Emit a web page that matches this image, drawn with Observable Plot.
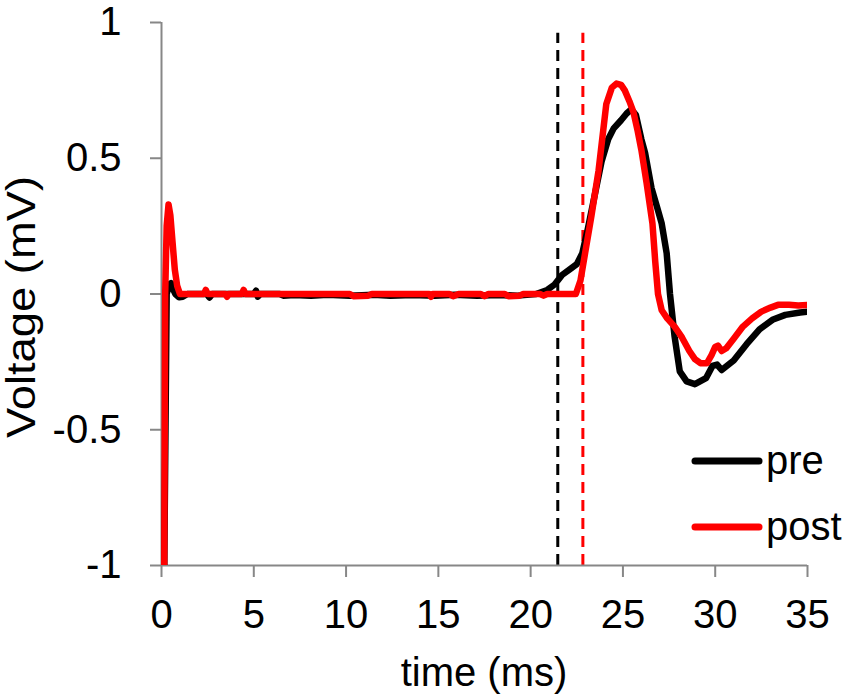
<!DOCTYPE html>
<html>
<head>
<meta charset="utf-8">
<script src="https://cdn.jsdelivr.net/npm/d3@7"></script>
<script src="https://cdn.jsdelivr.net/npm/@observablehq/plot@0.6"></script>
<style>
  html, body { margin: 0; padding: 0; background: #fff; }
</style>
</head>
<body>
<div id="chart"></div>
<script>
// ---- data ----
const xTicks = [0, 5, 10, 15, 20, 25, 30, 35];
const yTicks = [-1, -0.5, 0, 0.5, 1];
const seriesNames = ["pre", "post"];
const xTitle = "time (ms)";
const yTitle = "Voltage (mV)";

const preTime = [0.15, 0.28, 0.42, 0.52, 0.62, 0.75, 0.95, 1.15, 1.4, 2.45, 2.6, 2.75, 5.0, 5.12, 5.22, 5.35,
  6.4, 6.6, 7.2, 8.1, 9.0, 10.2, 11.5, 12.4, 13.6, 14.8, 15.9, 17.1, 18.2, 19.3, 20.3,
  20.9, 21.3, 21.7, 22.1, 22.5, 22.8, 23.1, 23.4, 23.85, 24.2, 24.5, 24.9, 25.2, 25.45, 25.7,
  26.0, 26.2, 26.55, 26.85, 27.1, 27.37, 27.55, 27.8, 28.08, 28.45, 28.9, 29.5, 29.85, 30.1,
  30.35, 31.0, 31.7, 32.4, 33.1, 33.8, 34.6, 35.0];
const preVoltage = [-1.0, 0.0, 0.035, 0.04, 0.02, 0.0, -0.012, -0.01, 0.0, 0.0, -0.013, 0.0, 0.0, 0.012, -0.01, 0.0,
  0.0, -0.006, -0.004, -0.006, -0.003, -0.006, -0.003, -0.006, -0.004, -0.006, -0.003, -0.006, -0.004, -0.006, 0.0,
  0.015, 0.035, 0.07, 0.09, 0.11, 0.15, 0.24, 0.34, 0.49, 0.57, 0.61, 0.64, 0.665, 0.68, 0.66,
  0.57, 0.52, 0.39, 0.32, 0.26, 0.15, 0.0, -0.157, -0.285, -0.322, -0.332, -0.31, -0.265, -0.26,
  -0.28, -0.245, -0.185, -0.13, -0.095, -0.077, -0.068, -0.065];

const postTime = [0.15, 0.2, 0.28, 0.38, 0.48, 0.6, 0.72, 0.85, 1.0, 2.3, 2.4, 2.5, 3.45, 3.55, 3.65, 4.35, 4.45, 4.55,
  10.2, 10.4, 11.2, 11.4, 14.5, 14.6, 14.7, 15.6, 15.8, 16.1, 17.3, 17.5, 17.7, 18.6, 18.8, 19.4, 19.6, 20.5, 20.7, 20.9,
  22.45, 22.7, 22.95, 23.3, 23.68, 24.1, 24.4, 24.65, 24.9, 25.1, 25.35, 25.57, 25.8, 26.0, 26.28, 26.6, 26.75, 26.9,
  27.1, 27.4, 27.8, 28.2, 28.6, 28.9, 29.2, 29.55, 29.8, 30.0, 30.15, 30.35, 30.6, 31.0, 31.5, 32.0, 32.5, 33.0, 33.4,
  34.0, 34.5, 35.0];
const postVoltage = [-1.0, 0.0, 0.25, 0.33, 0.29, 0.19, 0.09, 0.03, 0.0, 0.0, 0.015, 0.0, 0.0, -0.01, 0.0, 0.0, 0.015, 0.0,
  0.0, -0.008, -0.006, 0.0, 0.0, -0.01, 0.0, 0.0, -0.008, 0.0, 0.0, -0.008, 0.0, 0.0, -0.008, -0.006, 0.0, 0.0, -0.006, 0.0,
  0.0, 0.05, 0.15, 0.29, 0.455, 0.70, 0.76, 0.775, 0.77, 0.75, 0.71, 0.67, 0.6, 0.53, 0.41, 0.26, 0.12, 0.0,
  -0.06, -0.09, -0.12, -0.16, -0.21, -0.24, -0.255, -0.255, -0.225, -0.195, -0.19, -0.21, -0.2, -0.165, -0.12, -0.09, -0.065, -0.05, -0.04,
  -0.04, -0.042, -0.04];

const onsetTimes = [21.47, 22.83];      // pre onset, post onset
const onsetRange = [-1, 0.96];          // vertical extent of onset markers (mV)

// ---- build tables ----
const pre = preTime.map((t, i) => ({t, v: preVoltage[i]}));
const post = postTime.map((t, i) => ({t, v: postVoltage[i]}));

const FONT = "'Liberation Sans', Arial, Helvetica, sans-serif";
const AXIS = "#878787";

const plot = Plot.plot({
  width: 850,
  height: 700,
  marginLeft: 161,
  marginRight: 43,
  marginTop: 22,
  marginBottom: 135,
  style: {fontFamily: FONT, fontSize: "40px", background: "#fff", color: "#000", overflow: "visible"},
  x: {domain: [0, 35]},
  y: {domain: [-1, 1]},
  marks: [
    Plot.ruleX([onsetTimes[0]], {x: d => d, y1: onsetRange[0], y2: onsetRange[1], stroke: "#000", strokeWidth: 3, strokeDasharray: "11,7"}),
    Plot.ruleX([onsetTimes[1]], {x: d => d, y1: onsetRange[0], y2: onsetRange[1], stroke: "#ff0000", strokeWidth: 3, strokeDasharray: "11,7"}),
    Plot.axisX({ticks: xTicks, tickSize: 12, tickPadding: 22, stroke: AXIS, strokeWidth: 2, label: null, tickFormat: d => String(d), fontSize: 40}),
    Plot.axisY({ticks: yTicks, tickSize: 11, tickPadding: 29, stroke: AXIS, strokeWidth: 2, label: null, tickFormat: d => String(d), fontSize: 40}),
    Plot.ruleY([-1], {stroke: AXIS, strokeWidth: 2}),
    Plot.ruleX([0], {stroke: AXIS, strokeWidth: 2}),
    Plot.line(pre, {x: "t", y: "v", stroke: "#000", strokeWidth: 6.5, strokeLinejoin: "round", strokeLinecap: "round", clip: true}),
    Plot.line(post, {x: "t", y: "v", stroke: "#ff0000", strokeWidth: 6.5, strokeLinejoin: "round", strokeLinecap: "round", clip: true})
  ]
});

const svg = d3.select(plot);
// axis titles
svg.append("text")
  .attr("x", 484).attr("y", 686)
  .attr("text-anchor", "middle")
  .attr("font-family", FONT).attr("font-size", 40).attr("fill", "#000")
  .text(xTitle);
svg.append("text")
  .attr("transform", "translate(35,307) rotate(-90)")
  .attr("text-anchor", "middle")
  .attr("font-family", FONT).attr("font-size", 40).attr("fill", "#000")
  .attr("textLength", 262).attr("lengthAdjust", "spacingAndGlyphs")
  .text(yTitle);

// legend
const legendColors = ["#000", "#ff0000"];
const legendY = [461, 527];
const lg = svg.append("g");
seriesNames.forEach((name, i) => {
  lg.append("line")
    .attr("x1", 695).attr("x2", 759)
    .attr("y1", legendY[i]).attr("y2", legendY[i])
    .attr("stroke", legendColors[i]).attr("stroke-width", 7).attr("stroke-linecap", "round");
  lg.append("text")
    .attr("x", 766).attr("y", legendY[i] + 13)
    .attr("text-anchor", "start")
    .attr("font-family", FONT).attr("font-size", 40).attr("fill", "#000")
    .text(name);
});

document.getElementById("chart").appendChild(plot);
</script>
</body>
</html>
